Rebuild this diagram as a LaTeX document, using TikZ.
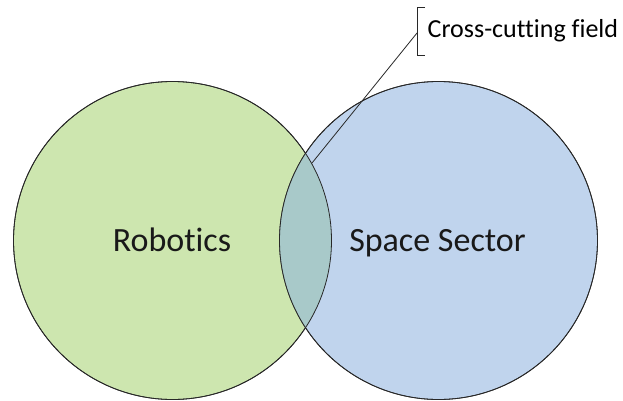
\documentclass[tikz,border=0pt]{standalone}
\usepackage{fontspec}
\setmainfont[Ligatures=NoCommon]{Carlito}
\definecolor{grn}{RGB}{205,230,175}
\definecolor{blu}{RGB}{192,212,237}
\definecolor{lens}{RGB}{168,201,201}
\definecolor{edge}{RGB}{40,40,40}
\begin{document}
\begin{tikzpicture}[x=1pt,y=1pt,
  venn/.style={circle, minimum size=318pt, inner sep=0pt, draw=edge, line width=0.8pt},
  big/.style={font=\fontsize{34}{38}\selectfont, text=black!90, anchor=base, inner sep=0pt},
  callout/.style={draw=edge, line width=0.8pt}]
\useasboundingbox (0,0) rectangle (623,400);
\fill[white] (0,0) rectangle (623,400);
\node[venn, fill=grn] (rob) at (172.5,159.5) {};
\node[venn, fill=blu] (spc) at (438.5,159.5) {};
\begin{scope}
  \clip (172.5,159.5) circle (159pt);
  \fill[lens] (438.5,159.5) circle (159pt);
\end{scope}
\draw[edge, line width=0.8pt] (rob.center) circle (159pt);
\draw[edge, line width=0.8pt] (spc.center) circle (159pt);
\node[big] (robt) at (172,149) {Robotics};
\node[big] (spct) at (437.5,149) {Space Sector};
\node[anchor=west, font=\fontsize{26}{29}\selectfont, inner sep=0pt] (lbl) at (427.5,369) {Cross-cutting field};
\coordinate (tip) at (312,237);
\coordinate (bk) at (417,367);
\draw[callout] (tip) -- (bk);
\draw[callout] (425,393) -- (417,393) -- (417,345) -- (425,345);
\end{tikzpicture}
\end{document}
